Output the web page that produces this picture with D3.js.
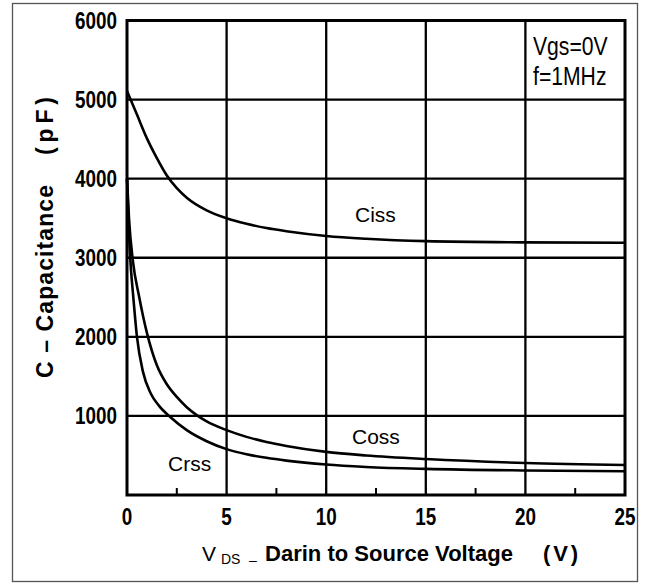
<!DOCTYPE html>
<script src="https://d3js.org/d3.v7.min.js"></script>
<body style="margin: 0; background: #fff;">
<svg id="chart" width="646" height="585"></svg>
</body>

<style>
  text { fill: #000; }
  .tick-label { font-family: "Liberation Sans", sans-serif; font-weight: bold; font-size: 23px; }
  .note { font-family: "Liberation Sans", sans-serif; font-size: 21px; }
  .title { font-family: "Liberation Sans", sans-serif; font-weight: bold; }
</style>

<script>

// axis ticks
var xTicks = [0, 5, 10, 15, 20, 25];
var xMinorTicks = [2.5, 7.5, 12.5, 17.5, 22.5];
var yTicks = [1000, 2000, 3000, 4000, 5000, 6000];

// Ciss (pF) vs VDS (V)
var cissV = [0, 0.5, 1, 1.5, 2, 2.5, 3, 4, 5, 6, 7, 8, 10, 12, 15, 20, 25];
var cissC = [5110, 4810, 4510, 4260, 4040, 3880, 3760, 3600, 3500, 3430, 3375, 3335, 3275, 3240, 3210, 3195, 3190];

// Coss
var cossV = [0, 0.1, 0.3, 0.6, 1, 1.5, 2, 2.5, 3, 3.5, 4, 5, 6, 7, 8, 10, 12, 15, 20, 25];
var cossC = [4000, 3500, 2950, 2520, 2050, 1640, 1400, 1240, 1110, 1010, 930, 820, 735, 670, 620, 545, 500, 455, 405, 380];

// Crss
var crssV = [0, 0.1, 0.2, 0.3, 0.5, 0.8, 1.2, 1.6, 2.2, 3, 4, 5, 6, 7, 8, 10, 12, 15, 20, 25];
var crssC = [4000, 3300, 2850, 2550, 2000, 1560, 1280, 1130, 980, 820, 680, 580, 515, 470, 435, 385, 355, 330, 310, 300];

var series = [
  { name: "Ciss", v: cissV, c: cissC, lx: 355, ly: 222 },
  { name: "Coss", v: cossV, c: cossC, lx: 352, ly: 444 },
  { name: "Crss", v: crssV, c: crssC, lx: 168, ly: 471 }
];

var svg = d3.select("#chart");

var x = d3.scaleLinear().domain([0, 25]).range([127, 625]);
var y = d3.scaleLinear().domain([0, 6000]).range([495, 20.5]);

// outer border
svg.append("rect")
   .attr("x", 12.5).attr("y", 3.5)
   .attr("width", 625).attr("height", 578)
   .attr("fill", "none")
   .attr("stroke", "#555")
   .attr("stroke-width", 1.3);

// grid
svg.append("g").selectAll("line")
   .data(xTicks.slice(1, -1))
   .join("line")
     .attr("x1", function(d) { return x(d); })
     .attr("x2", function(d) { return x(d); })
     .attr("y1", y(0)).attr("y2", y(6000))
     .attr("stroke", "#000").attr("stroke-width", 2.3);

svg.append("g").selectAll("line")
   .data(yTicks.slice(0, -1))
   .join("line")
     .attr("x1", x(0)).attr("x2", x(25))
     .attr("y1", function(d) { return y(d); })
     .attr("y2", function(d) { return y(d); })
     .attr("stroke", "#000").attr("stroke-width", 2.3);

// minor ticks on bottom axis
svg.append("g").selectAll("line")
   .data(xMinorTicks)
   .join("line")
     .attr("x1", function(d) { return x(d); })
     .attr("x2", function(d) { return x(d); })
     .attr("y1", y(0)).attr("y2", y(0) - 7)
     .attr("stroke", "#000").attr("stroke-width", 2);

// frame
svg.append("rect")
   .attr("x", x(0)).attr("y", y(6000))
   .attr("width", x(25) - x(0)).attr("height", y(0) - y(6000))
   .attr("fill", "none")
   .attr("stroke", "#000")
   .attr("stroke-width", 3);

// curves
var line = d3.line()
   .x(function(d) { return x(d[0]); })
   .y(function(d) { return y(d[1]); })
   .curve(d3.curveMonotoneX);

svg.append("g").selectAll("path")
   .data(series)
   .join("path")
     .attr("d", function(d) { return line(d3.zip(d.v, d.c)); })
     .attr("fill", "none")
     .attr("stroke", "#000")
     .attr("stroke-width", 2.6);

svg.append("g").selectAll("text")
   .data(series)
   .join("text")
     .attr("class", "note")
     .attr("x", function(d) { return d.lx; })
     .attr("y", function(d) { return d.ly; })
     .text(function(d) { return d.name; });

// tick labels (narrowed, the original uses a condensed face)
svg.append("g").selectAll("text")
   .data(yTicks)
   .join("text")
     .attr("class", "tick-label")
     .attr("transform", function(d) { return "translate(117," + (y(d) + 8) + ") scale(0.82,1)"; })
     .attr("text-anchor", "end")
     .text(function(d) { return d; });

svg.append("g").selectAll("text")
   .data(xTicks)
   .join("text")
     .attr("class", "tick-label")
     .attr("transform", function(d) { return "translate(" + x(d) + ",525) scale(0.82,1)"; })
     .attr("text-anchor", "middle")
     .text(function(d) { return d; });

// test conditions
svg.append("text").attr("class", "note").attr("transform", "translate(533,55) scale(0.92,1.1)").style("font-size", "23px").text("Vgs=0V");
svg.append("text").attr("class", "note").attr("transform", "translate(533,85) scale(0.92,1.1)").style("font-size", "23px").text("f=1MHz");

// x title
var xt = svg.append("g").attr("class", "title");
xt.append("text").attr("x", 202).attr("y", 561).style("font-weight", "normal").style("font-size", "21px").text("V");
xt.append("text").attr("x", 221).attr("y", 564).style("font-weight", "normal").style("font-size", "14px").text("DS");
xt.append("text").attr("x", 249).attr("y", 565).style("font-weight", "normal").style("font-size", "14px").text("–");
xt.append("text").attr("x", 265).attr("y", 561).style("font-size", "22px")
   .attr("textLength", 248).attr("lengthAdjust", "spacing")
   .text("Darin to Source Voltage");
xt.append("text").attr("x", 543).attr("y", 561).style("font-size", "22px")
   .attr("textLength", 35).attr("lengthAdjust", "spacing")
   .text("(V)");

// y title
var yt = svg.append("g").attr("class", "title").attr("transform", "translate(53,0) rotate(-90)");
yt.append("text").attr("x", -378).attr("y", 0).style("font-size", "23px")
   .attr("textLength", 193).attr("lengthAdjust", "spacing")
   .text("C – Capacitance");
yt.append("text").attr("x", -155).attr("y", 0).style("font-size", "23px")
   .attr("textLength", 58).attr("lengthAdjust", "spacing")
   .text("(pF)");

</script>
